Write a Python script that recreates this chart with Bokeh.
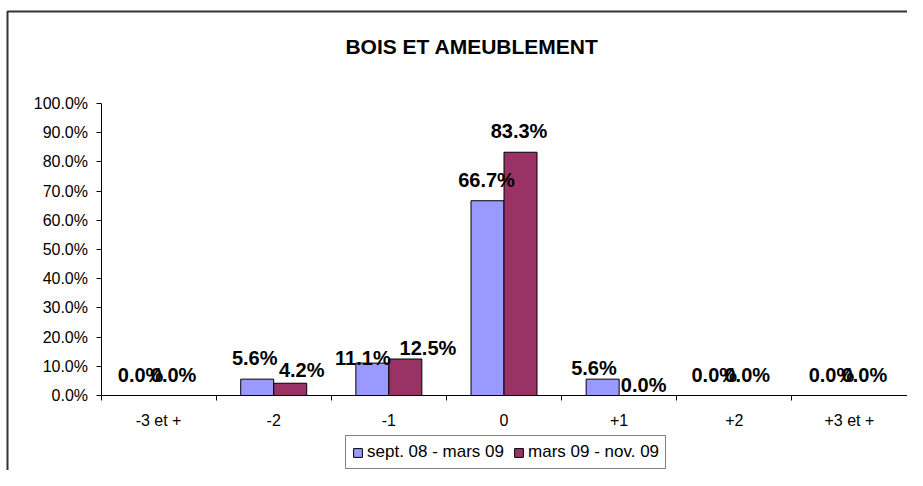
from bokeh.plotting import figure
from bokeh.models import (ColumnDataSource, FixedTicker, PrintfTickFormatter, Range1d,
                          Label, Legend, LegendItem)
from bokeh.embed import file_html
from bokeh.resources import INLINE

# ---- data ----
categories = ["-3 et +", "-2", "-1", "0", "+1", "+2", "+3 et +"]
series_names = ["sept. 08 - mars 09", "mars 09 - nov. 09"]
values_a = [0.0, 5.6, 11.1, 66.7, 5.6, 0.0, 0.0]
values_b = [0.0, 4.2, 12.5, 83.3, 0.0, 0.0, 0.0]
y_ticks = [0, 10, 20, 30, 40, 50, 60, 70, 80, 90, 100]
title_text = "BOIS ET AMEUBLEMENT"

# ---- layout / style (pixel nudges for data labels, as in the reference) ----
label_dx_a = [-1.5, -2.5, -9.5, -1.0, -8.7, -3.5, -1.5]
label_dx_b = [-1.5, 11.5, 22.6, -1.5, 8.0, -3.5, -1.5]
label_gap_a = [13.3, 13.7, -2.3, 14.0, 3.7, 13.3, 13.3]
label_gap_b = [13.3, 6.0, 3.6, 14.0, 3.3, 13.3, 13.3]
HALF_CAP = 7.2

FONT = "Liberation Sans"
BLUE = "#9999FF"
RED = "#993366"
W, H = 907, 470
n = len(categories)

# pixel geometry of the plot area inside the canvas
AX_LEFT, AX_RIGHT = 100.5, 906.5      # x of value 0 and value n
AX_TOP, AX_BOTTOM = 103.0, 395.0      # y of 100 % and 0 %
kx = (AX_RIGHT - AX_LEFT) / n
ky = (AX_BOTTOM - AX_TOP) / 100.0


def xd(px):
    return (px - AX_LEFT) / kx


def yd(py):
    return (AX_BOTTOM - py) / ky


bar_w = 33.0 / kx
half = bar_w / 2
centers = [i + 0.5 for i in range(n)]

p = figure(width=W, height=H, output_backend="svg", toolbar_location=None,
           x_range=Range1d(xd(0), xd(W)), y_range=Range1d(yd(H), yd(0)), title=None,
           min_border=0, min_border_left=0, min_border_right=0,
           min_border_top=0, min_border_bottom=0)
p.outline_line_color = None
p.background_fill_color = "white"
p.border_fill_color = "white"
p.xgrid.visible = False
p.ygrid.visible = False

# outer chart border: only its left and top edges fall inside the picture
p.line(x=[xd(7), xd(7), xd(W + 50)], y=[yd(H + 50), yd(11), yd(11)],
       line_color="#333333", line_width=2)

src_a = ColumnDataSource(dict(x=[c - half for c in centers], top=values_a,
                              txt=[f"{v:.1f}%" for v in values_a],
                              dx=label_dx_a, dy=[-(g + HALF_CAP) for g in label_gap_a]))
src_b = ColumnDataSource(dict(x=[c + half for c in centers], top=values_b,
                              txt=[f"{v:.1f}%" for v in values_b],
                              dx=label_dx_b, dy=[-(g + HALF_CAP) for g in label_gap_b]))

ra = p.vbar(x="x", top="top", width=bar_w, bottom=0, source=src_a,
            fill_color=BLUE, line_color="black", line_width=1)
rb = p.vbar(x="x", top="top", width=bar_w, bottom=0, source=src_b,
            fill_color=RED, line_color="black", line_width=1)

for src in (src_a, src_b):
    p.text(x="x", y="top", text="txt", x_offset="dx", y_offset="dy", source=src,
           text_align="center", text_baseline="middle",
           text_font={"value": FONT}, text_font_style="bold",
           text_font_size="20px", text_color="black")

# x axis: labels at centres, tick marks at category boundaries
xa = p.xaxis[0]
xa.fixed_location = 0
xa.bounds = (0, n)
xa.ticker = FixedTicker(ticks=centers, minor_ticks=list(range(n + 1)))
xa.major_label_overrides = {c: lab for c, lab in zip(centers, categories)}
xa.major_tick_line_color = None
xa.major_tick_in = 0
xa.major_tick_out = 0
xa.minor_tick_in = 0
xa.minor_tick_out = 5
xa.minor_tick_line_color = "black"
xa.axis_line_color = "black"
xa.major_label_text_font = FONT
xa.major_label_text_font_size = "16px"
xa.major_label_text_color = "black"
xa.major_label_standoff = 11

ya = p.yaxis[0]
ya.fixed_location = 0
ya.bounds = (0, 100)
ya.ticker = FixedTicker(ticks=y_ticks, minor_ticks=[])
ya.formatter = PrintfTickFormatter(format="%.1f%%")
ya.major_tick_in = 0
ya.major_tick_out = 5
ya.major_tick_line_color = "black"
ya.axis_line_color = "black"
ya.major_label_text_font = FONT
ya.major_label_text_font_size = "16px"
ya.major_label_text_color = "black"
ya.major_label_standoff = 8

# chart title
p.add_layout(Label(x=xd(471.5), y=yd(45.5), text=title_text,
                   text_align="center", text_baseline="middle",
                   text_font=FONT, text_font_style="bold", text_font_size="21px",
                   text_color="black"))

legend = Legend(items=[LegendItem(label=series_names[0], renderers=[ra]),
                       LegendItem(label=series_names[1], renderers=[rb])],
                orientation="horizontal", location=(345, 1),
                glyph_width=11, glyph_height=11, label_standoff=4, spacing=9,
                padding=6, margin=0, label_height=17,
                label_text_font=FONT, label_text_font_size="17px", label_text_color="black",
                border_line_color="black", border_line_width=1,
                background_fill_color="white", background_fill_alpha=1)
p.add_layout(legend)

open("out.html", "w").write(file_html(p, INLINE))
